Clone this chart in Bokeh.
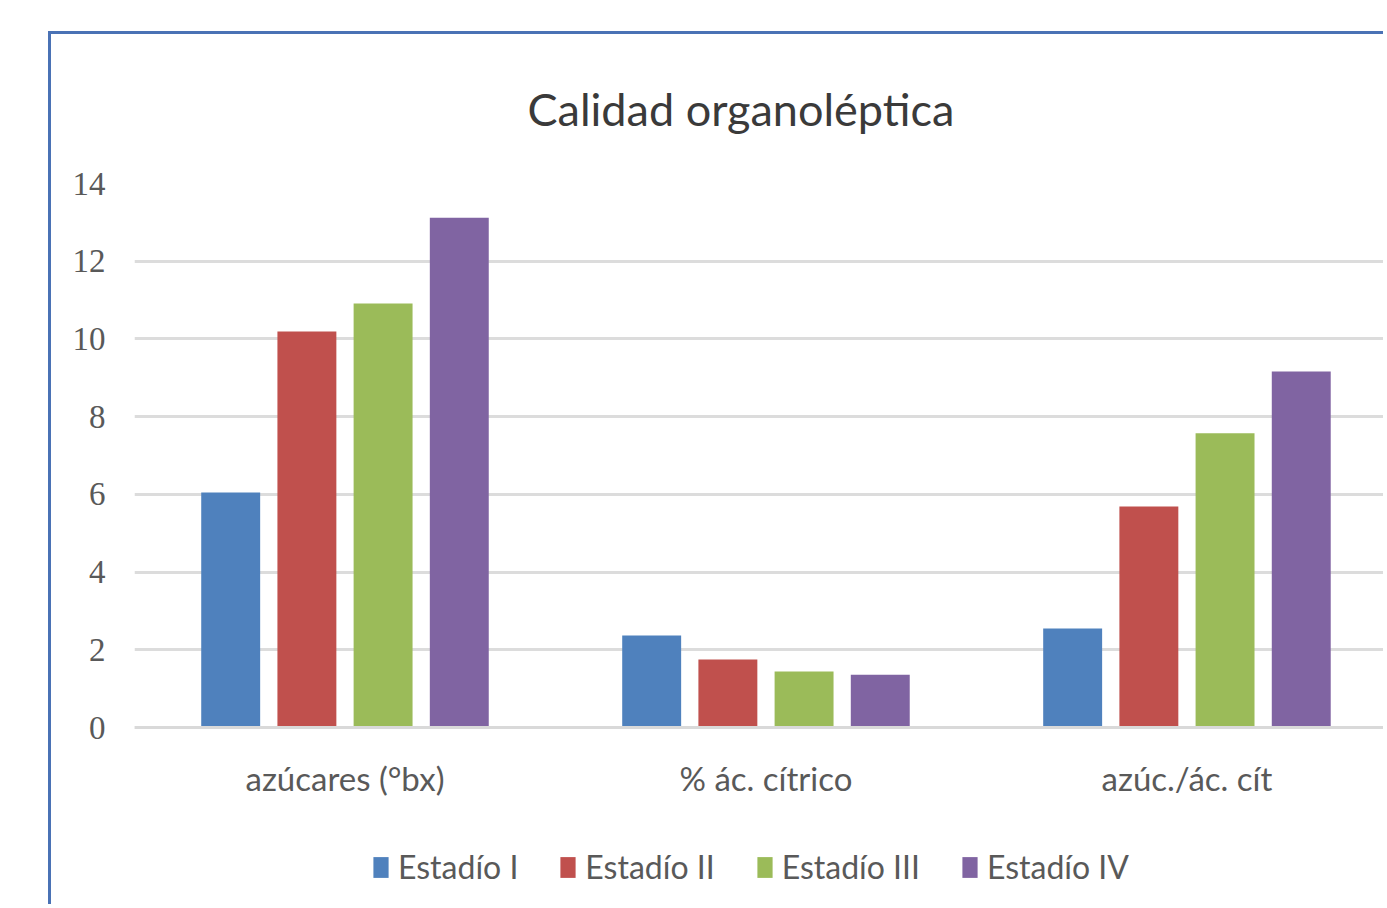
from bokeh.plotting import figure
from bokeh.models import Range1d, FixedTicker
from bokeh.embed import file_html
from bokeh.resources import INLINE

categories = ["azúcares (°bx)", "% ác. cítrico", "azúc./ác. cít"]
series = ["Estadío I", "Estadío II", "Estadío III", "Estadío IV"]
estadio_1 = [6.05, 2.37, 2.55]
estadio_2 = [10.19, 1.75, 5.69]
estadio_3 = [10.91, 1.44, 7.57]
estadio_4 = [13.12, 1.36, 9.16]
colors = ["#4F81BD", "#C0504D", "#9BBB59", "#8064A2"]
y_ticks = [0, 2, 4, 6, 8, 10, 12, 14]

values = [estadio_1, estadio_2, estadio_3, estadio_4]
offsets = [-0.2715, -0.0905, 0.0905, 0.2715]

OX, OY = 52, 35  # canvas origin on page (after CSS margin+border)
W, H = 1387 - OX, 908 - OY
FRAME_TOP, ZERO_Y = 184, 728
px_per_unit = (ZERO_Y - FRAME_TOP) / 14.0
y_min = -(908 - ZERO_Y) / px_per_unit

p = figure(width=W, height=H, output_backend="svg", toolbar_location=None,
           x_range=Range1d(0, 2.974), y_range=Range1d(y_min, 14),
           min_border_left=135 - OX, min_border_right=0,
           min_border_top=FRAME_TOP - OY, min_border_bottom=0)

p.margin = (31, 0, 0, 48)
p.styles = {"border-left": "3px solid #4A72B5", "border-top": "3px solid #4A72B5"}

centers = [i + 0.5 for i in range(len(categories))]
for vals, off, col, name in zip(values, offsets, colors, series):
    xs = [c + off for c in centers]
    p.vbar(x=xs, top=vals, bottom=0, width=0.14, fill_color=col, line_color=None,
           legend_label=name)

p.outline_line_color = None
p.background_fill_color = "white"
p.border_fill_color = "white"

# title
p.title.text = "Calidad organoléptica"
p.title.text_font = "Lato"
p.title.text_font_size = "45px"
p.title.text_font_style = "normal"
p.title.text_color = "#3a3a3a"
p.title.align = "left"
p.title.vertical_align = "top"
p.title.offset = 393
p.title.standoff = 92

# x axis, fixed at y = 0
xa = p.xaxis[0]
xa.fixed_location = 0
xa.ticker = FixedTicker(ticks=centers)
xa.major_label_overrides = {c: lab for c, lab in zip(centers, categories)}
xa.major_label_text_font = "Lato"
xa.major_label_text_font_size = "33px"
xa.major_label_text_color = "#595959"
xa.major_tick_line_color = None
xa.minor_tick_line_color = None
xa.axis_line_color = "#d9d9d9"
xa.axis_line_width = 3
xa.major_label_standoff = 24

# y axis
ya = p.yaxis[0]
ya.ticker = FixedTicker(ticks=y_ticks)
ya.major_label_text_font = "Liberation Serif"
ya.major_label_text_font_size = "33px"
ya.major_label_text_color = "#595959"
ya.major_tick_line_color = None
ya.minor_tick_line_color = None
ya.axis_line_color = None
ya.major_label_standoff = 23

p.xgrid.grid_line_color = None
p.ygrid.grid_line_color = "#dcdcdc"
p.ygrid.grid_line_width = 3
p.ygrid.ticker = FixedTicker(ticks=y_ticks)

# legend inside the frame area (below the category labels)
lg = p.legend[0]
lg.orientation = "horizontal"
lg.location = (237, 21)
lg.glyph_width = 19
lg.glyph_height = 26
lg.label_standoff = 8
lg.spacing = 40
lg.padding = 0
lg.margin = 0
lg.border_line_color = None
lg.background_fill_alpha = 0
lg.label_text_font = "Lato"
lg.label_text_font_size = "32px"
lg.label_text_color = "#595959"
lg.label_height = 34

open("out.html", "w").write(file_html(p, INLINE))
